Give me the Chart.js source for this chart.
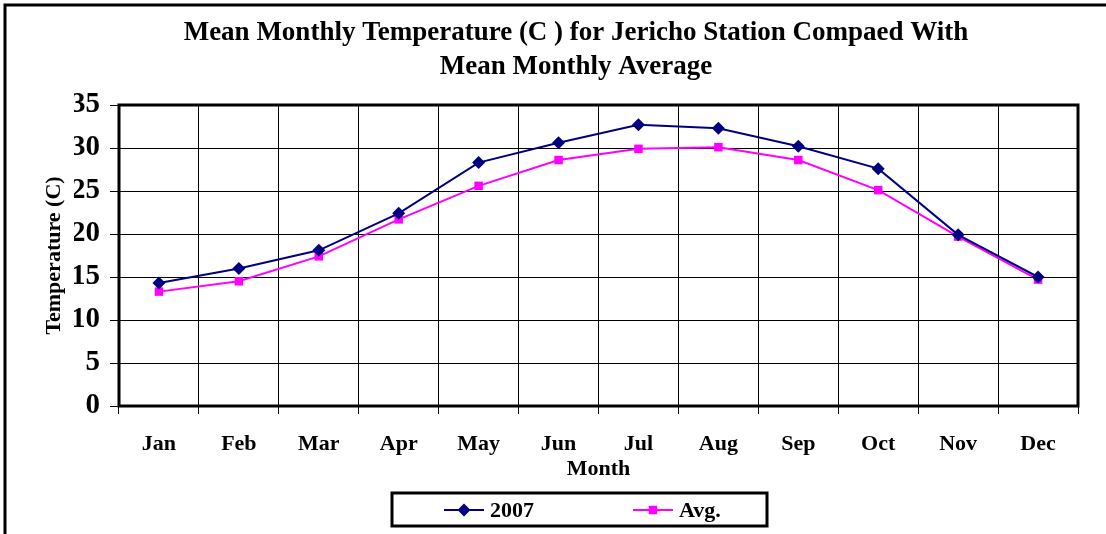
<!DOCTYPE html>
<html>
<head>
<meta charset="utf-8">
<script src="https://cdn.jsdelivr.net/npm/chart.js@4/dist/chart.umd.min.js"></script>
<style>
  html, body { margin: 0; padding: 0; background: #fff; }
  #wrap { width: 1106px; height: 534px; }
</style>
</head>
<body>
<div id="wrap"><canvas id="c" width="1106" height="534"></canvas></div>
<script>
const months = ['Jan', 'Feb', 'Mar', 'Apr', 'May', 'Jun', 'Jul', 'Aug', 'Sep', 'Oct', 'Nov', 'Dec'];
const temp2007 = [14.3, 16.0, 18.1, 22.4, 28.3, 30.6, 32.7, 32.3, 30.2, 27.6, 19.9, 15.0];
const tempAvg = [13.3, 14.5, 17.4, 21.7, 25.6, 28.6, 29.9, 30.1, 28.6, 25.1, 19.7, 14.7];
const yTicks = [0, 5, 10, 15, 20, 25, 30, 35];

const SERIF = '"Liberation Serif", "Times New Roman", serif';

// frame round the image, thick border round the plot, and the boxed legend
const framePlugin = {
  id: 'frame',
  afterDraw(chart) {
    const ctx = chart.ctx;
    const a = chart.chartArea;
    ctx.save();
    ctx.strokeStyle = '#000';

    ctx.lineWidth = 3;
    ctx.beginPath();
    ctx.moveTo(5, chart.height + 5);
    ctx.lineTo(5, 5);
    ctx.lineTo(chart.width + 5, 5);
    ctx.stroke();

    ctx.lineWidth = 3;
    ctx.strokeRect(a.left, a.top, a.right - a.left, a.bottom - a.top);

    // legend
    ctx.lineWidth = 3;
    ctx.strokeRect(392, 493, 375, 33);
    const items = [{ x: 444 }, { x: 633 }];
    const cy = 510;
    chart.data.datasets.forEach((ds, i) => {
      const x0 = items[i].x;
      ctx.strokeStyle = ds.borderColor;
      ctx.lineWidth = ds.borderWidth;
      ctx.beginPath();
      ctx.moveTo(x0, cy);
      ctx.lineTo(x0 + 40, cy);
      ctx.stroke();
      ctx.fillStyle = ds.pointBackgroundColor;
      Chart.helpers.drawPoint(ctx, {
        pointStyle: ds.pointStyle,
        radius: ds.pointRadius,
        rotation: 0,
        borderWidth: 0
      }, x0 + 20, cy);
      ctx.fillStyle = '#000';
      ctx.font = 'bold 22px ' + SERIF;
      ctx.textAlign = 'left';
      ctx.textBaseline = 'middle';
      ctx.fillText(ds.label, x0 + 46, cy + 1);
    });
    ctx.restore();
  }
};

new Chart(document.getElementById('c'), {
  type: 'line',
  data: {
    labels: months,
    datasets: [
      {
        label: '2007',
        data: temp2007,
        borderColor: '#000080',
        backgroundColor: '#000080',
        pointBackgroundColor: '#000080',
        pointBorderColor: '#000080',
        borderWidth: 2,
        pointStyle: 'rectRot',
        pointRadius: 6.5,
        pointBorderWidth: 0,
        tension: 0
      },
      {
        label: 'Avg.',
        data: tempAvg,
        borderColor: '#FF00FF',
        backgroundColor: '#FF00FF',
        pointBackgroundColor: '#FF00FF',
        pointBorderColor: '#FF00FF',
        borderWidth: 2,
        pointStyle: 'rect',
        pointRadius: 6,
        pointBorderWidth: 0,
        tension: 0
      }
    ]
  },
  options: {
    responsive: false,
    animation: false,
    layout: { padding: { left: 74, right: 28, top: 0, bottom: 54 } },
    plugins: {
      legend: { display: false },
      tooltip: { enabled: false },
      title: {
        display: true,
        text: ['Mean Monthly Temperature (C ) for Jericho Station Compaed With', 'Mean Monthly Average'],
        color: '#000',
        font: { family: SERIF, size: 27, weight: 'bold', lineHeight: 34 / 27 },
        padding: { top: 16, bottom: 21 }
      }
    },
    scales: {
      x: {
        offset: true,
        grid: { offset: true, color: '#000', lineWidth: 1, tickLength: 8, drawTicks: true },
        border: { display: false },
        ticks: {
          color: '#000',
          padding: 19,
          maxRotation: 0,
          autoSkip: false,
          font: { family: SERIF, size: 22, weight: 'bold', lineHeight: 1 }
        },
        title: {
          display: true,
          text: 'Month',
          color: '#000',
          font: { family: SERIF, size: 22, weight: 'bold', lineHeight: 1 },
          padding: { top: 0, bottom: 0 }
        },
        afterFit(scale) { scale.height = 74; }
      },
      y: {
        min: 0,
        max: 35,
        afterBuildTicks(scale) { scale.ticks = yTicks.map(v => ({ value: v })); },
        grid: { color: '#000', lineWidth: 1, tickLength: 9, drawTicks: true },
        border: { display: false },
        ticks: {
          color: '#000',
          padding: 10,
          font: { family: SERIF, size: 29, weight: 'bold', lineHeight: 1 }
        },
        title: {
          display: true,
          text: 'Temperature (C)',
          color: '#000',
          font: { family: SERIF, size: 22, weight: 'bold', lineHeight: 1 },
          padding: { top: -31, bottom: 0 }
        },
        afterFit(scale) { scale.width = 45; }
      }
    }
  },
  plugins: [framePlugin]
});
</script>
</body>
</html>
